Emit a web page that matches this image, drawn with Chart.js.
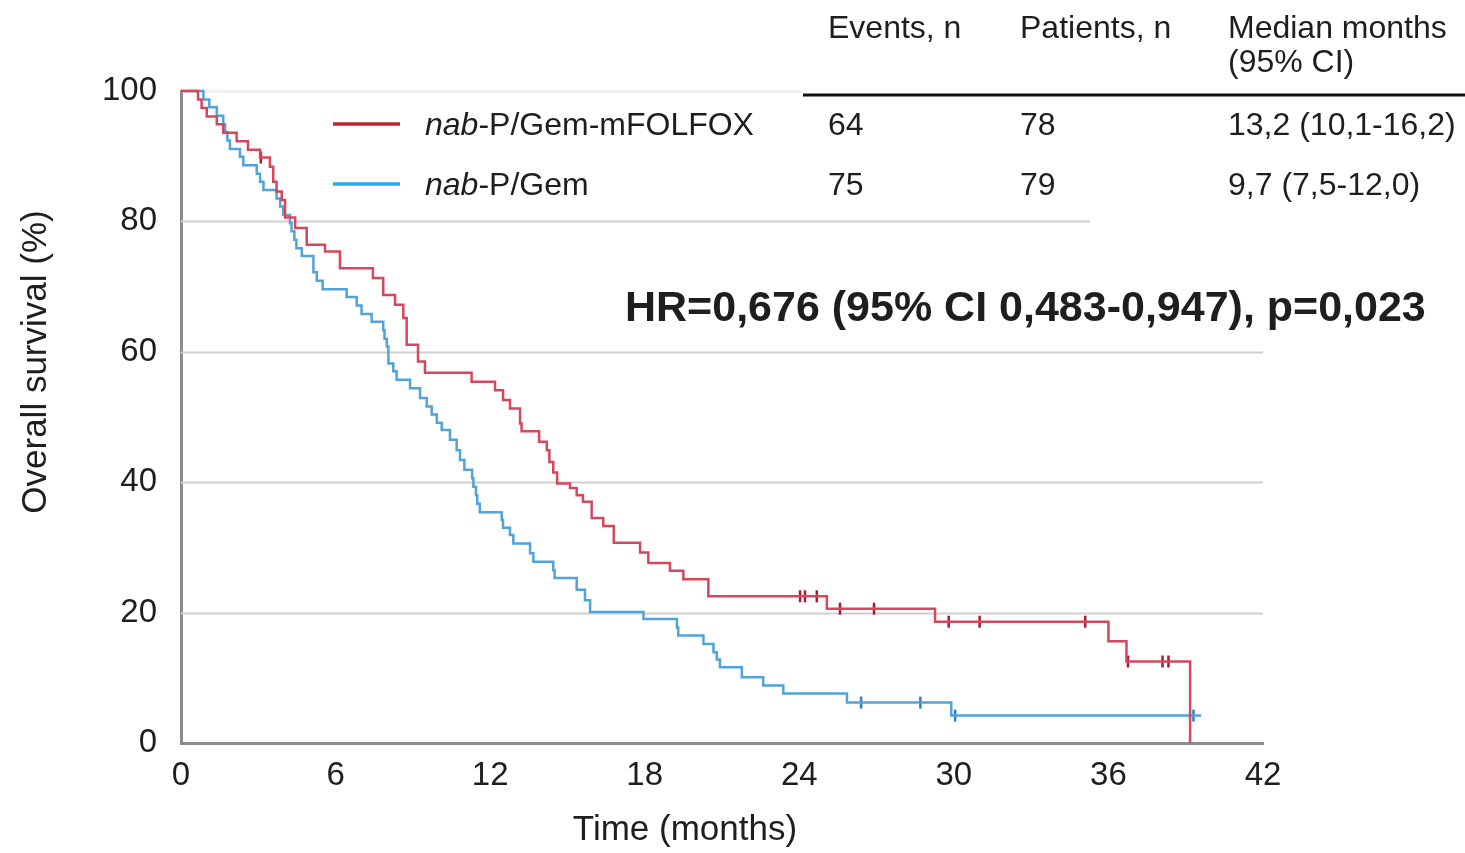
<!DOCTYPE html>
<html>
<head>
<meta charset="utf-8">
<script src="https://cdn.jsdelivr.net/npm/chart.js@4.4.1/dist/chart.umd.min.js"></script>
<style>
  html, body { margin: 0; padding: 0; background: #fff; }
  #wrap { width: 1465px; height: 853px; }
</style>
</head>
<body>
<div id="wrap"><canvas id="km" width="1465" height="853"></canvas></div>
<script>
// Kaplan-Meier steps: time (months) where the curve drops, survival (%) after the drop
const redTime = [0, 0.66, 0.8, 1.0, 1.39, 1.64, 2.16, 2.6, 3.07, 3.45, 3.58, 3.71, 3.91, 4.04, 4.43, 4.88, 5.59,
  6.17, 7.45, 7.85, 8.31, 8.63, 8.76, 9.2, 9.47, 11.28, 12.19, 12.5, 12.77, 13.16, 13.22, 13.9, 14.2, 14.3,
  14.45, 14.6, 15.1, 15.36, 15.6, 15.94, 16.39, 16.8, 17.82, 18.14, 18.98, 19.5, 20.47, 25.07, 29.27, 36.0,
  36.7, 39.17];
const redSurv = [100, 98.7, 97.4, 96.1, 94.9, 93.6, 92.3, 91.0, 89.8, 88.4, 86.1, 84.6, 83.3, 80.6, 79.0, 76.4, 75.4,
  72.8, 71.3, 68.7, 67.2, 65.2, 61.1, 58.5, 56.8, 55.4, 54.1, 52.6, 51.3, 49.0, 47.8, 46.2, 44.9, 43.1,
  41.5, 39.8, 39.1, 38.0, 37.0, 34.5, 33.3, 30.7, 29.2, 27.6, 26.4, 25.1, 22.5, 20.6, 18.6, 15.6,
  12.5, 0];

const blueTime = [0, 0.87, 1.1, 1.39, 1.64, 1.71, 1.8, 1.9, 2.29, 2.42, 2.94, 3.07, 3.2, 3.71, 3.85, 3.97, 4.23,
  4.29, 4.4, 4.48, 4.69, 5.14, 5.27, 5.5, 6.43, 6.82, 7.01, 7.4, 7.85, 7.9, 7.99, 8.05, 8.24, 8.37, 8.89,
  9.28, 9.54, 9.73, 9.93, 10.12, 10.44, 10.7, 10.83, 11.0, 11.3, 11.35, 11.45, 11.5, 11.6, 12.45, 12.5,
  12.77, 12.9, 13.55, 13.68, 14.45, 14.5, 15.36, 15.68, 15.88, 17.95, 19.25, 19.3, 20.28, 20.67, 20.8,
  20.92, 21.77, 22.6, 23.38, 25.85, 29.9, 39.6];
const blueSurv = [100, 98.7, 97.5, 96.2, 94.9, 93.7, 92.4, 91.1, 89.9, 88.6, 87.3, 86.1, 84.8, 83.5, 82.3, 81.0, 79.7,
  78.5, 77.2, 75.9, 74.7, 72.2, 70.9, 69.6, 68.4, 67.1, 65.8, 64.6, 63.3, 62.0, 60.8, 58.2, 57.0, 55.7, 54.4,
  52.9, 51.6, 50.4, 49.1, 48.0, 46.5, 44.9, 43.4, 41.9, 40.6, 39.3, 38.0, 36.7, 35.4, 34.2, 33.0,
  31.9, 30.6, 29.1, 27.8, 26.5, 25.3, 23.5, 21.9, 20.1, 19.0, 17.7, 16.5, 15.2, 13.9, 12.8,
  11.6, 10.1, 8.8, 7.6, 6.2, 4.2, 4.2];

// censored observations
const redCensorTime = [3.1, 24.03, 24.22, 24.68, 25.58, 26.9, 29.8, 31.0, 35.1, 36.76, 38.1, 38.33];
const redCensorSurv = [89.8, 22.5, 22.5, 22.5, 20.6, 20.6, 18.6, 18.6, 18.6, 12.5, 12.5, 12.5];
const blueCensorTime = [26.4, 28.7, 30.05, 39.3];
const blueCensorSurv = [6.2, 6.2, 4.2, 4.2];

const xTicks = [0, 6, 12, 18, 24, 30, 36, 42];
const yTicks = [0, 20, 40, 60, 80, 100];

const seriesLabels = ["nab-P/Gem-mFOLFOX", "nab-P/Gem"];
const tableHeads = [["Events, n"], ["Patients, n"], ["Median months", "(95% CI)"]];
const eventsN = ["64", "75"];
const patientsN = ["78", "79"];
const medianCI = ["13,2 (10,1-16,2)", "9,7 (7,5-12,0)"];
const hrText = "HR=0,676 (95% CI 0,483-0,947), p=0,023";

const RED = "#d5485c", RED_DARK = "#a61e2e", RED_LEG = "#c0262f";
const BLUE = "#52a3d8", BLUE_DARK = "#2b7fbf", BLUE_LEG = "#2ba8df";
const FONT = "'Liberation Sans', Arial, sans-serif";

const pts = (xs, ys) => xs.map((t, i) => ({ x: t, y: ys[i] }));

// gridlines, table, legend, annotation and axis titles
const decor = {
  id: "decor",
  beforeDatasetsDraw(chart) {
    const { ctx, scales: { x, y } } = chart;
    ctx.save();
    yTicks.forEach(v => {
      if (v === 0) return;
      const py = Math.round(y.getPixelForValue(v)) + 0.5;
      let right = x.right, col = "#cfcfcf";
      if (v === 80) right = 1090;
      if (v === 100) { right = 803; col = "#ececec"; }
      ctx.strokeStyle = col;
      ctx.lineWidth = 2;
      ctx.beginPath();
      ctx.moveTo(x.left, py);
      ctx.lineTo(right, py);
      ctx.stroke();
    });
    ctx.restore();
  },
  afterDraw(chart) {
    const { ctx } = chart;
    ctx.save();
    ctx.fillStyle = "#1e1e1e";
    ctx.textBaseline = "middle";
    ctx.textAlign = "left";

    // table
    const colX = [828, 1020, 1228];
    ctx.font = "32px " + FONT;
    tableHeads.forEach((lines, c) => lines.forEach((t, r) => ctx.fillText(t, colX[c], 29 + r * 34)));
    ctx.strokeStyle = "#111";
    ctx.lineWidth = 3;
    ctx.beginPath(); ctx.moveTo(803, 95); ctx.lineTo(1465, 95); ctx.stroke();
    const rowY = [126, 186];
    rowY.forEach((ry, i) => {
      ctx.fillText(eventsN[i], colX[0], ry);
      ctx.fillText(patientsN[i], colX[1], ry);
      ctx.fillText(medianCI[i], colX[2], ry);
    });

    // legend
    const legCols = [RED_LEG, BLUE_LEG];
    seriesLabels.forEach((lab, i) => {
      const ly = rowY[i] - 2;
      ctx.strokeStyle = legCols[i];
      ctx.lineWidth = 3.5;
      ctx.beginPath(); ctx.moveTo(333, ly); ctx.lineTo(400, ly); ctx.stroke();
      const cut = lab.indexOf("-");
      const it = lab.slice(0, cut), rest = lab.slice(cut);
      ctx.font = "italic 32px " + FONT;
      ctx.fillText(it, 425, rowY[i]);
      const w = ctx.measureText(it).width;
      ctx.font = "32px " + FONT;
      ctx.fillText(rest, 425 + w, rowY[i]);
    });

    // hazard ratio
    ctx.font = "bold 43px " + FONT;
    ctx.fillText(hrText, 625, 309);

    // axis titles
    ctx.font = "35px " + FONT;
    ctx.textAlign = "center";
    ctx.fillText("Time (months)", 685, 830);
    ctx.translate(36, 362);
    ctx.rotate(-Math.PI / 2);
    ctx.fillText("Overall survival (%)", 0, 0);
    ctx.restore();
  }
};

new Chart(document.getElementById("km"), {
  type: "line",
  data: {
    datasets: [
      { label: seriesLabels[0], data: pts(redTime, redSurv), borderColor: RED, borderWidth: 2.5,
        stepped: "before", pointRadius: 0, fill: false, clip: false },
      { label: seriesLabels[1], data: pts(blueTime, blueSurv), borderColor: BLUE, borderWidth: 2.5,
        stepped: "before", pointRadius: 0, fill: false, clip: false },
      { type: "scatter", data: pts(redCensorTime, redCensorSurv), pointStyle: "line", rotation: 90,
        pointRadius: 6, borderColor: RED_DARK, borderWidth: 2.5, showLine: false },
      { type: "scatter", data: pts(blueCensorTime, blueCensorSurv), pointStyle: "line", rotation: 90,
        pointRadius: 6, borderColor: BLUE_DARK, borderWidth: 2.5, showLine: false }
    ]
  },
  options: {
    responsive: false,
    animation: false,
    devicePixelRatio: 1,
    layout: { padding: { top: 91, right: 202, left: 0, bottom: 0 } },
    plugins: { legend: { display: false }, tooltip: { enabled: false } },
    scales: {
      x: {
        type: "linear", min: 0, max: 42,
        afterBuildTicks: s => { s.ticks = xTicks.map(v => ({ value: v })); },
        afterFit: s => { s.height = 110; },
        grid: { display: false, drawTicks: false, tickLength: 0 },
        border: { display: true, color: "#8c8c8c", width: 3 },
        ticks: { color: "#1e1e1e", font: { family: FONT, size: 33 }, padding: 13, maxRotation: 0 }
      },
      y: {
        min: 0, max: 100,
        afterBuildTicks: s => { s.ticks = yTicks.map(v => ({ value: v })); },
        afterFit: s => { s.width = 181; },
        grid: { display: false, drawTicks: false, tickLength: 0 },
        border: { display: true, color: "#8c8c8c", width: 3 },
        ticks: { color: "#1e1e1e", font: { family: FONT, size: 33 }, padding: 24 }
      }
    }
  },
  plugins: [decor]
});
</script>
</body>
</html>
